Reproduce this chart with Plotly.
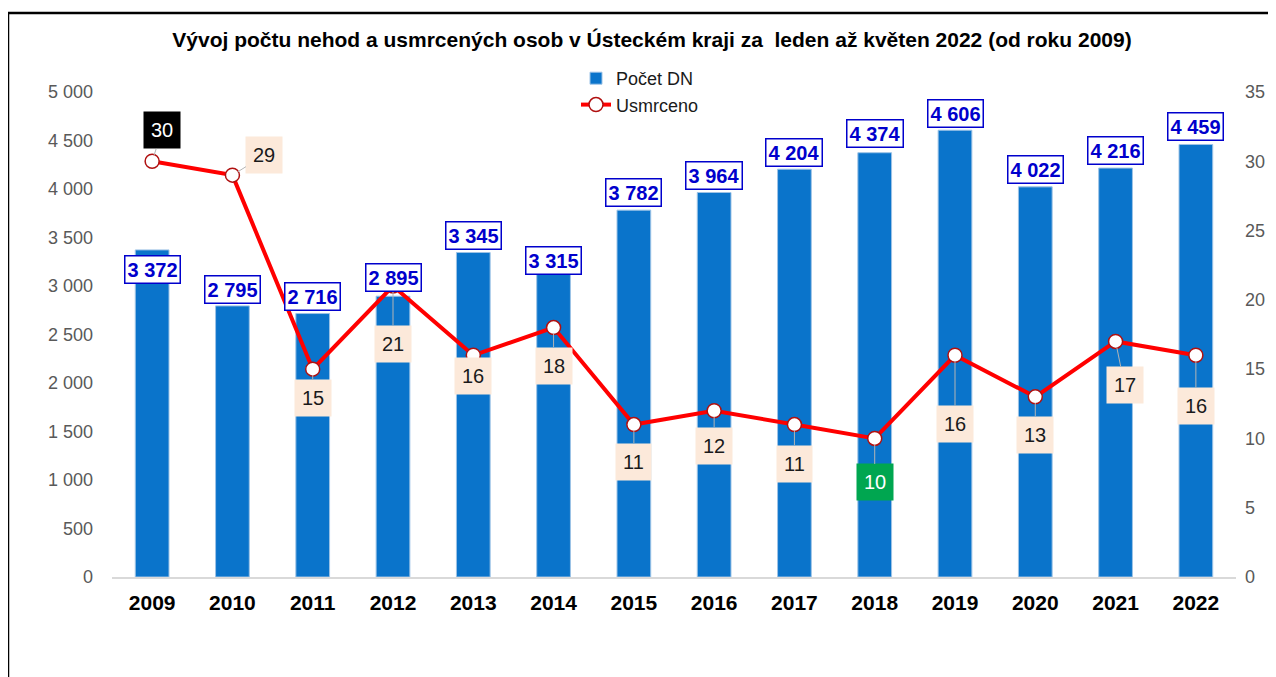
import plotly.graph_objects as go

years = ["2009", "2010", "2011", "2012", "2013", "2014", "2015",
         "2016", "2017", "2018", "2019", "2020", "2021", "2022"]
pocet_dn = [3372, 2795, 2716, 2895, 3345, 3315, 3782,
            3964, 4204, 4374, 4606, 4022, 4216, 4459]
usmrceno = [30, 29, 15, 21, 16, 18, 11, 12, 11, 10, 16, 13, 17, 16]
left_ticks = list(range(0, 5001, 500))

# label placement (pixels)
bar_label_shift = [-20, 16, 17, 19, 17, -5, 18, 17, 17, 19, 17, 17, 18, 18]
line_label_ax = [10, 32, 0, 0, 0, 0, 0, 0, 0, 0, 0, 0, 9, 0]
line_label_ay = [-31, -20, 29, 58, 21, 38, 37, 35, 39, 44, 69, 38, 44, 51]

# the page puts the figure 8px in from the window corner
OFF = 8
W, H = 1276 - OFF, 677 - OFF
ML, MR, MT, MB = 112 - OFF, 40, 92 - OFF, 100


def px_x(p):
    # p: x pixel in the window
    return (p - OFF - ML) / (W - ML - MR)


def px_y(p):
    return (H - MB - (p - OFF)) / (H - MT - MB)


def thousands(v):
    return "{:,}".format(v).replace(",", " ")


fig = go.Figure()
fig.add_trace(go.Bar(
    x=years, y=pocet_dn, name="Počet DN",
    marker=dict(color="#0A74CB", line=dict(color="#9DC3E6", width=1)),
))
fig.add_trace(go.Scatter(
    x=years, y=usmrceno, name="Usmrceno", yaxis="y2",
    mode="lines+markers",
    line=dict(color="#FF0000", width=4),
    marker=dict(size=14, color="white", line=dict(color="#B01010", width=1.5)),
))

annotations = []
# numeric years would be read as category indices, so use the index
for i, (v, s) in enumerate(zip(pocet_dn, bar_label_shift)):
    annotations.append(dict(
        x=i, y=v, xref="x", yref="y", text=thousands(v),
        showarrow=False, yshift=s, yanchor="middle",
        font=dict(family="Arial", size=20, color="#0000CC", weight="bold"),
        bgcolor="white", bordercolor="#0000CC", borderwidth=1.5, borderpad=2,
    ))

for i, v in enumerate(usmrceno):
    bg, fc = "#FCE9DA", "#1a1a1a"
    if v == max(usmrceno):
        bg, fc = "black", "white"
    elif v == min(usmrceno):
        bg, fc = "#00A650", "white"
    annotations.append(dict(
        x=i, y=v, xref="x", yref="y2", text=str(v),
        showarrow=True, ax=line_label_ax[i], ay=line_label_ay[i],
        arrowhead=0, arrowwidth=1, arrowcolor="#B4B4B4", standoff=6,
        font=dict(family="Arial", size=20, color=fc),
        bgcolor=bg, borderpad=7,
    ))

fig.update_layout(
    width=W, height=H,
    margin=dict(l=ML, r=MR, t=MT, b=MB, autoexpand=False),
    paper_bgcolor="white", plot_bgcolor="white",
    font=dict(family="Arial", color="#595959"),
    title=dict(
        text="<b>Vývoj počtu nehod a usmrcených osob v Ústeckém kraji za  leden až květen 2022 (od roku 2009)</b>",
        x=(652 - OFF) / W, y=1 - (40 - OFF) / H, xanchor="center", yanchor="middle",
        font=dict(size=21, color="black"),
    ),
    bargap=0.58,
    showlegend=True,
    legend=dict(
        x=px_x(576), y=px_y(60), xanchor="left", yanchor="top",
        font=dict(size=18, color="#1a1a1a"), bgcolor="rgba(0,0,0,0)",
        tracegroupgap=0,
    ),
    xaxis=dict(
        type="category", range=[-0.5, len(years) - 0.5], automargin=False,
        showgrid=False, showline=True, linecolor="#D9D9D9",
        linewidth=1.5, ticks="", ticklabelstandoff=6,
        tickfont=dict(size=21, color="black", weight="bold"),
    ),
    yaxis=dict(
        range=[0, 5000], tickvals=left_ticks, automargin=False,
        ticktext=[thousands(t) for t in left_ticks],
        showgrid=False, zeroline=False,
        tickfont=dict(size=18, color="#595959"), ticklabelstandoff=18,
    ),
    yaxis2=dict(
        range=[0, 35], dtick=5, overlaying="y", side="right", showgrid=False,
        zeroline=False, tickfont=dict(size=18, color="#595959"),
        ticklabelstandoff=8, automargin=False,
    ),
    annotations=annotations,
    shapes=[
        dict(type="line", xref="paper", yref="paper",
             x0=px_x(8), x1=px_x(1290), y0=px_y(13), y1=px_y(13),
             line=dict(color="black", width=2.5)),
        dict(type="line", xref="paper", yref="paper",
             x0=px_x(8), x1=px_x(8), y0=px_y(13), y1=px_y(690),
             line=dict(color="black", width=2.5)),
    ],
)

fig.write_html("out.html")
